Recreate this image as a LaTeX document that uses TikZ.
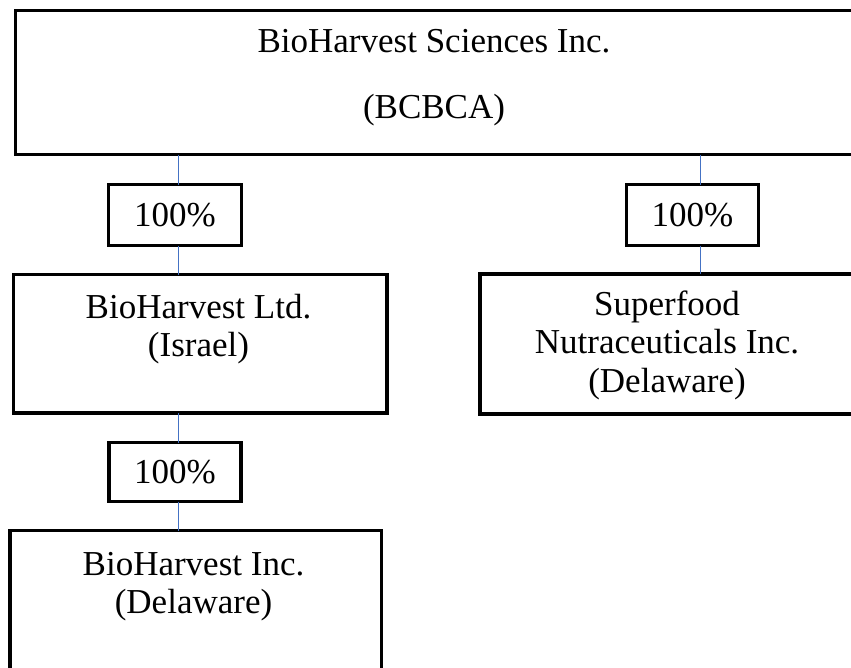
\documentclass[tikz,border=0pt]{standalone}
\usepackage{fontspec}
\setmainfont{Liberation Serif}
\definecolor{linkblue}{HTML}{4472C4}

\begin{document}
\begin{tikzpicture}[
    x=1pt, y=-1pt,
    entity/.style={draw, line width=3.3pt, inner sep=0pt, outer sep=0pt, anchor=north west},
    share/.style={draw, line width=3.3pt, inner sep=0pt, outer sep=0pt,
                  minimum width=133pt, minimum height=61pt, font=\fontsize{35}{39}\selectfont},
    firm/.style={anchor=base, inner sep=0pt, font=\fontsize{35}{39}\selectfont},
    link/.style={draw=linkblue, line width=1pt}
]
    \useasboundingbox (0,0) rectangle (851,667);
    \clip (0,0) rectangle (851,667);

    % Parent
    \node[entity, minimum width=837.5pt, minimum height=144pt] (parent) at (15.5,10.5) {};
    \node[firm] (parentname) at (434,52) {BioHarvest Sciences Inc.};
    \node[firm] (parentcode) at (434,118) {(BCBCA)};

    % Israel subsidiary
    \node[entity, minimum width=373.3pt, minimum height=138.5pt] (israel) at (13.7,274.5) {};
    \node[firm] (israelname) at (198.5,318) {BioHarvest Ltd.};
    \node[firm] (israelplace) at (198.5,356) {(Israel)};

    % Delaware subsidiary of Israel
    \node[entity, minimum width=371.7pt, minimum height=200pt] (inc) at (10,530.5) {};
    \node[firm] (incname) at (193.5,575) {BioHarvest Inc.};
    \node[firm] (incplace) at (193.5,613) {(Delaware)};

    % Superfood
    \node[entity, minimum width=400pt, minimum height=140pt] (superfood) at (480,274) {};
    \node[firm] (supername) at (667,315) {Superfood};
    \node[firm] (supertype) at (667,353) {Nutraceuticals Inc.};
    \node[firm] (superplace) at (667,392) {(Delaware)};

    % Ownership
    \node[share] (own1) at (175,215) {100\%};
    \node[share, minimum width=131.8pt] (own2) at (692.4,215.2) {100\%};
    \node[share, minimum width=132pt, minimum height=59pt] (own3) at (175,472) {100\%};

    % Links
    \coordinate (left) at (178,0);
    \coordinate (right) at (700,0);
    \draw[link] (left |- parent.south) -- (left |- own1.north);
    \draw[link] (left |- own1.south) -- (left |- israel.north);
    \draw[link] (left |- israel.south) -- (left |- own3.north);
    \draw[link] (left |- own3.south) -- (left |- inc.north);
    \draw[link] (right |- parent.south) -- (right |- own2.north);
    \draw[link] (right |- own2.south) -- (right |- superfood.north);
\end{tikzpicture}
\end{document}
